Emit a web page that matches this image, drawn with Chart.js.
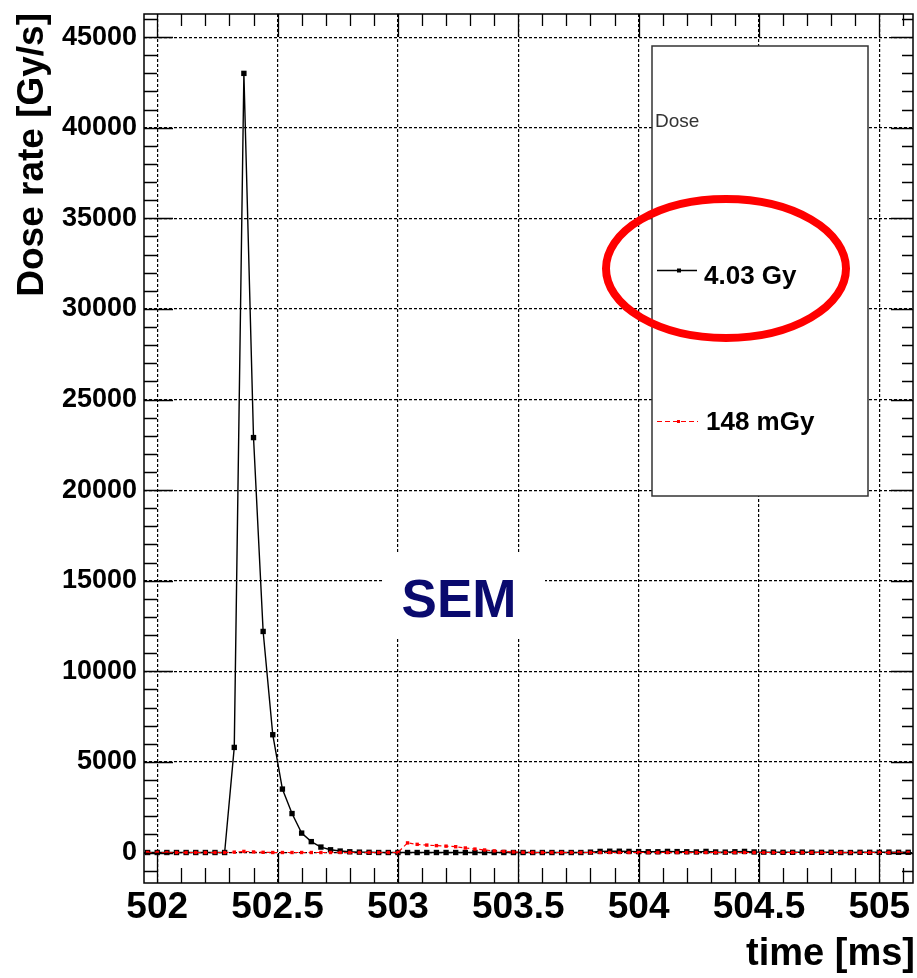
<!DOCTYPE html>
<html>
<head>
<meta charset="utf-8">
<script src="https://cdn.jsdelivr.net/npm/chart.js@4.4.1/dist/chart.umd.min.js"></script>
<style>
  html, body { margin: 0; padding: 0; background: #fff; }
  canvas { display: block; }
</style>
</head>
<body>
<canvas id="doseChart" width="917" height="978"></canvas>
<script>
// time bins [ms]
const times = [
  501.96, 502, 502.04, 502.08, 502.12, 502.16, 502.2, 502.24, 502.28, 502.32, 502.36, 502.4, 502.44,
  502.48, 502.52, 502.56, 502.6, 502.64, 502.68, 502.72, 502.76, 502.8, 502.84, 502.88, 502.92, 502.96,
  503, 503.04, 503.08, 503.12, 503.16, 503.2, 503.24, 503.28, 503.32, 503.36, 503.4, 503.44, 503.48,
  503.52, 503.56, 503.6, 503.64, 503.68, 503.72, 503.76, 503.8, 503.84, 503.88, 503.92, 503.96,
  504, 504.04, 504.08, 504.12, 504.16, 504.2, 504.24, 504.28, 504.32, 504.36, 504.4, 504.44, 504.48,
  504.52, 504.56, 504.6, 504.64, 504.68, 504.72, 504.76, 504.8, 504.84, 504.88, 504.92, 504.96,
  505, 505.04, 505.08, 505.12
];
// dose rate [Gy/s], 4.03 Gy run
const dose403 = [
  0, 0, 0, 0, 0, 0, 0, 0, 0, 5800, 43000, 22900, 12200, 6500, 3500, 2150, 1070, 600, 300, 150, 80, 40, 20, 10, 0, 0,
  0, 0, 0, 0, 0, 0, 0, 0, 0, 0, 0, 0, 0, 0, 0, 0, 0, 0, 0, 0, 20, 60, 70, 70, 60,
  50, 40, 40, 60, 50, 40, 30, 60, 30, 20, 40, 60, 30, 20, 20, 10, 10, 20, 10, 10, 10, 0, 0, 10, 10,
  10, 20, 10, 10
];
// dose rate [Gy/s], 148 mGy run
const dose148 = [
  0, 0, 0, 0, 0, 0, 0, 0, 0, 20, 60, 30, 10, 0, 0, 0, 0, 0, 0, 0, 0, 0, 0, 0, 0, 0,
  0, 530, 450, 410, 380, 350, 320, 250, 190, 140, 90, 60, 30, 10, 0, 0, 0, 0, 0, 0, 0, 0, 0, 0, 0,
  0, 0, 0, 0, 0, 0, 0, 0, 0, 0, 0, 0, 0, 0, 0, 0, 0, 0, 0, 0, 0, 0, 0, 0, 0,
  0, 0, 0, 0
];
const xMajor = [502, 502.5, 503, 503.5, 504, 504.5, 505];
const yMajor = [0, 5000, 10000, 15000, 20000, 25000, 30000, 35000, 40000, 45000];
const seriesLabels = ['4.03 Gy', '148 mGy'];

const FONT = '"Liberation Sans", Arial, Helvetica, sans-serif';

// ROOT-like frame, ticks on all sides, legend box, annotations
const rootDecor = {
  id: 'rootDecor',
  beforeDatasetsDraw(chart) {
    const ctx = chart.ctx;
    // white box behind the SEM label
    ctx.save();
    ctx.fillStyle = '#fff';
    ctx.fillRect(383, 552, 162, 85);
    ctx.restore();
  },
  afterDraw(chart) {
    const ctx = chart.ctx;
    const a = chart.chartArea;
    const xs = chart.scales.x, ys = chart.scales.y;
    ctx.save();
    ctx.strokeStyle = '#000';
    ctx.lineWidth = 1.5;
    ctx.strokeRect(a.left, a.top, a.right - a.left, a.bottom - a.top);

    ctx.lineWidth = 1.3;
    ctx.beginPath();
    // x ticks every 0.1, major every 0.5
    for (let i = 0; i <= 31; i++) {
      const v = 502 + i * 0.1;
      const px = Math.round(xs.getPixelForValue(v)) + 0.5;
      const major = i % 5 === 0;
      ctx.moveTo(px, a.bottom); ctx.lineTo(px, a.bottom - (major ? 30 : 15));
      ctx.moveTo(px, a.top); ctx.lineTo(px, a.top + (major ? 23 : 12));
    }
    // y ticks every 1000, major every 5000
    for (let v = -1000; v <= 46000; v += 1000) {
      const py = Math.round(ys.getPixelForValue(v)) + 0.5;
      const major = v % 5000 === 0;
      ctx.moveTo(a.left, py); ctx.lineTo(a.left + (major ? 29 : 13), py);
      ctx.moveTo(a.right, py); ctx.lineTo(a.right - (major ? 22 : 11), py);
    }
    ctx.stroke();

    // axis titles
    ctx.fillStyle = '#000';
    ctx.font = 'bold 38px ' + FONT;
    ctx.textAlign = 'right';
    ctx.textBaseline = 'alphabetic';
    ctx.fillText('time [ms]', 915, 965);
    ctx.save();
    ctx.translate(43, 13);
    ctx.rotate(-Math.PI / 2);
    ctx.font = 'bold 37px ' + FONT;
    ctx.fillText('Dose rate [Gy/s]', 0, 0);
    ctx.restore();

    // legend
    ctx.fillStyle = '#fff';
    ctx.fillRect(652, 46, 216, 450);
    ctx.strokeStyle = '#333';
    ctx.lineWidth = 1.5;
    ctx.strokeRect(652, 46, 216, 450);
    ctx.fillStyle = '#333';
    ctx.textAlign = 'left';
    ctx.font = '19px ' + FONT;
    ctx.fillText('Dose', 655, 127);

    ctx.strokeStyle = '#000';
    ctx.lineWidth = 1.3;
    ctx.beginPath(); ctx.moveTo(657, 270.5); ctx.lineTo(697, 270.5); ctx.stroke();
    ctx.fillStyle = '#000';
    ctx.fillRect(677, 268.5, 4, 4);
    ctx.font = 'bold 26px ' + FONT;
    ctx.fillStyle = '#000';
    ctx.fillText(seriesLabels[0], 704, 284);

    ctx.strokeStyle = '#ff0000';
    ctx.lineWidth = 1.2;
    ctx.setLineDash([5, 3]);
    ctx.beginPath(); ctx.moveTo(657, 421.5); ctx.lineTo(698, 421.5); ctx.stroke();
    ctx.setLineDash([]);
    ctx.fillStyle = '#ff0000';
    ctx.fillRect(677, 420, 3, 3);
    ctx.fillStyle = '#000';
    ctx.fillText(seriesLabels[1], 706, 430);

    // SEM label
    ctx.fillStyle = '#0a0a6e';
    ctx.font = 'bold 53px ' + FONT;
    ctx.textAlign = 'center';
    ctx.fillText('SEM', 459, 617);

    // red highlight ellipse
    ctx.strokeStyle = '#ff0000';
    ctx.lineWidth = 8;
    ctx.beginPath();
    ctx.ellipse(726, 268.5, 120, 69.5, 0, 0, Math.PI * 2);
    ctx.stroke();
    ctx.restore();
  }
};

const ctx = document.getElementById('doseChart').getContext('2d');
new Chart(ctx, {
  type: 'line',
  data: {
    datasets: [
      {
        label: seriesLabels[0],
        data: times.map((t, i) => ({ x: t, y: dose403[i] })),
        borderColor: '#000',
        backgroundColor: '#000',
        borderWidth: 1.4,
        pointStyle: 'rect',
        pointRadius: 3.8,
        pointBorderWidth: 0,
        tension: 0,
        order: 2
      },
      {
        label: seriesLabels[1],
        data: times.map((t, i) => ({ x: t, y: dose148[i] })),
        borderColor: '#ff0000',
        backgroundColor: '#ff0000',
        borderWidth: 1.2,
        borderDash: [4, 3],
        pointStyle: 'rect',
        pointRadius: 2.4,
        pointBorderWidth: 0,
        tension: 0,
        order: 1
      }
    ]
  },
  options: {
    responsive: false,
    animation: false,
    devicePixelRatio: 1,
    layout: { padding: { top: 14, right: 4, left: 0, bottom: 0 } },
    plugins: { legend: { display: false }, tooltip: { enabled: false } },
    scales: {
      x: {
        type: 'linear',
        min: 501.945,
        max: 505.14,
        afterFit: s => { s.height = 95; s.paddingLeft = 0; s.paddingRight = 0; },
        afterBuildTicks: s => { s.ticks = xMajor.map(v => ({ value: v })); },
        ticks: {
          callback: v => String(v),
          color: '#000',
          font: { family: FONT, size: 37, weight: 'bold' },
          padding: 3,
          maxRotation: 0,
          autoSkip: false
        },
        grid: { color: '#000', lineWidth: 1.2, drawTicks: false },
        border: { display: false, dash: [3, 2] }
      },
      y: {
        min: -1683,
        max: 46277,
        afterFit: s => { s.width = 144; s.paddingTop = 0; s.paddingBottom = 0; },
        afterBuildTicks: s => { s.ticks = yMajor.map(v => ({ value: v })); },
        ticks: {
          callback: v => String(v),
          color: '#000',
          font: { family: FONT, size: 27, weight: 'bold' },
          padding: 7,
          autoSkip: false
        },
        grid: { color: '#000', lineWidth: 1.2, drawTicks: false },
        border: { display: false, dash: [3, 2] }
      }
    }
  },
  plugins: [rootDecor]
});
</script>
</body>
</html>
